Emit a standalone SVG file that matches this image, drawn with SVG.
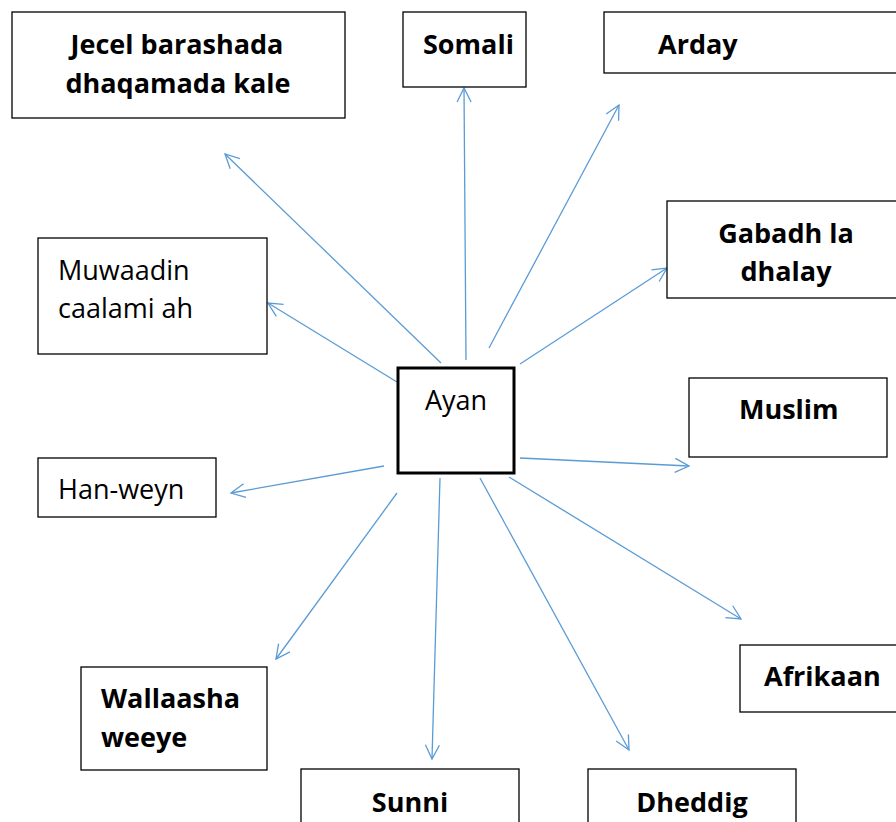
<svg xmlns="http://www.w3.org/2000/svg" width="896" height="822" viewBox="0 0 896 822">
<style>
.box{fill:#fff;stroke:#000;stroke-width:1.3}
.c{fill:none;stroke:#5B9BD5;stroke-width:1.3}
.b{font-family:"Open Sans","DejaVu Sans",sans-serif;font-weight:700;font-size:27px;fill:#000}
.r{font-family:"Open Sans","DejaVu Sans",sans-serif;font-weight:400;font-size:27px;fill:#000}
</style>
<defs>
<marker id="ah" markerUnits="userSpaceOnUse" markerWidth="20" markerHeight="20" viewBox="0 0 20 20" refX="16" refY="10" orient="auto">
<path d="M2,3 L16,10 L2,17" fill="none" stroke="#5B9BD5" stroke-width="1.3"/>
</marker>
</defs>
<rect width="896" height="822" fill="#fff"/>
<g id="connectors">
<line class="c" x1="441" y1="363" x2="225" y2="154" marker-end="url(#ah)"/>
<line class="c" x1="466" y1="360" x2="464" y2="88" marker-end="url(#ah)"/>
<line class="c" x1="489" y1="348" x2="619" y2="105" marker-end="url(#ah)"/>
<line class="c" x1="520" y1="364" x2="667" y2="268" marker-end="url(#ah)"/>
<line class="c" x1="397" y1="382" x2="268" y2="303" marker-end="url(#ah)"/>
<line class="c" x1="384" y1="466" x2="231" y2="493" marker-end="url(#ah)"/>
<line class="c" x1="520" y1="458" x2="689" y2="466" marker-end="url(#ah)"/>
<line class="c" x1="397" y1="493" x2="276" y2="659" marker-end="url(#ah)"/>
<line class="c" x1="440" y1="478" x2="432" y2="759" marker-end="url(#ah)"/>
<line class="c" x1="480" y1="478" x2="629" y2="750" marker-end="url(#ah)"/>
<line class="c" x1="509" y1="477" x2="741" y2="619" marker-end="url(#ah)"/>
</g>
<g id="jecel"><rect class="box" x="12" y="12" width="333" height="106"/>
<text class="b" x="177" y="54" text-anchor="middle">Jecel barashada</text>
<text class="b" x="178" y="93" text-anchor="middle">dhaqamada kale</text></g>
<g id="somali"><rect class="box" x="403" y="12" width="123" height="75"/>
<text class="b" x="423" y="54">Somali</text></g>
<g id="arday"><rect class="box" x="604" y="12" width="300" height="61"/>
<text class="b" x="658" y="54">Arday</text></g>
<g id="gabadh"><rect class="box" x="667" y="201" width="240" height="97"/>
<text class="b" x="786" y="243" text-anchor="middle">Gabadh la</text>
<text class="b" x="786" y="281" text-anchor="middle">dhalay</text></g>
<g id="muwaadin"><rect class="box" x="38" y="238" width="229" height="116"/>
<text class="r" x="58" y="280">Muwaadin</text>
<text class="r" x="58" y="318">caalami ah</text></g>
<g id="ayan"><rect x="398" y="368" width="116" height="105" fill="#fff" stroke="#000" stroke-width="3"/>
<text class="r" x="425" y="410">Ayan</text></g>
<g id="muslim"><rect class="box" x="689" y="378" width="198" height="79"/>
<text class="b" x="739" y="419">Muslim</text></g>
<g id="hanweyn"><rect class="box" x="38" y="458" width="178" height="59"/>
<text class="r" x="58" y="499">Han-weyn</text></g>
<g id="afrikaan"><rect class="box" x="740" y="645" width="166" height="67"/>
<text class="b" x="764" y="686">Afrikaan</text></g>
<g id="wallaasha"><rect class="box" x="81" y="667" width="186" height="103"/>
<text class="b" x="101" y="708">Wallaasha</text>
<text class="b" x="101" y="747">weeye</text></g>
<g id="sunni"><rect class="box" x="301" y="769" width="218" height="70"/>
<text class="b" x="410" y="812" text-anchor="middle">Sunni</text></g>
<g id="dheddig"><rect class="box" x="588" y="769" width="208" height="70"/>
<text class="b" x="692" y="812" text-anchor="middle">Dheddig</text></g>
</svg>
